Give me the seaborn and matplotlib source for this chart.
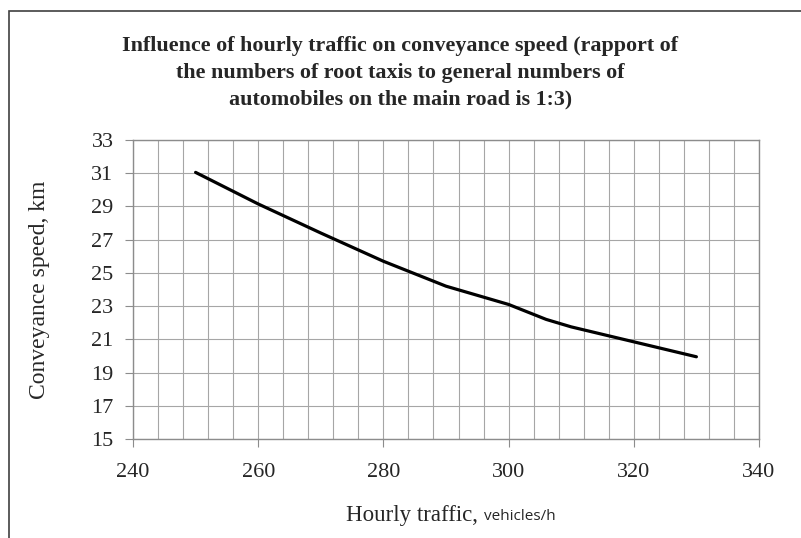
import matplotlib
matplotlib.use("Agg")
import matplotlib.pyplot as plt
import seaborn as sns
import pandas as pd
from matplotlib.patches import Rectangle

traffic = [250, 260, 270, 280, 290, 300, 306, 310, 320, 330]
speed = [31.05, 29.15, 27.4, 25.7, 24.2, 23.1, 22.2, 21.75, 20.85, 19.95]
x_ticks = [240, 260, 280, 300, 320, 340]
y_ticks = [15, 17, 19, 21, 23, 25, 27, 29, 31, 33]

title = ("Influence of hourly traffic on conveyance speed (rapport of\n"
         "the numbers of root taxis to general numbers of\n"
         "automobiles on the main road is 1:3)")

sns.set_style("white")
plt.rcParams['font.family'] = ['Liberation Serif', 'DejaVu Serif']

df = pd.DataFrame({"traffic": traffic, "speed": speed})

fig = plt.figure(figsize=(8.01, 5.38), dpi=100)
ax = fig.add_axes([133/801, 1 - 439/538, (759-133)/801, (439-140)/538])

sns.lineplot(data=df, x="traffic", y="speed", ax=ax, color="black", lw=2.3)

ax.set_xlim(240, 340)
ax.set_ylim(15, 33)
ax.set_xticks(x_ticks)
ax.set_yticks(y_ticks)
ax.set_xticks(list(range(240, 341, 4)), minor=True)
ax.grid(True, which="both", axis="x", color="#a6a6a6", lw=0.8)
ax.grid(True, which="major", axis="y", color="#a6a6a6", lw=0.8)
ax.tick_params(axis="both", which="major", direction="out", length=6, width=0.8,
               color="#8c8c8c", labelsize=16, bottom=True, left=True)
ax.tick_params(axis="x", which="major", pad=11)
ax.tick_params(axis="y", which="major", pad=8)
ax.tick_params(axis="x", which="minor", length=0)
for s in ax.spines.values():
    s.set_color("#8c8c8c")
    s.set_linewidth(1.0)

ax.set_xlabel("")
ax.set_ylabel("Conveyance speed, km", fontsize=17)
ax.yaxis.set_label_coords((50 - 133) / 626, 0.5)

fig.text(478/801, 1 - 516/538, "Hourly traffic,", fontsize=16.5, ha="right", va="center")
fig.text(484/801, 1 - 516/538, "vehicles/h", fontsize=11, ha="left", va="center",
         family=["Open Sans", "DejaVu Sans"])

fig.text(0.5, 1 - 73/538, title, fontsize=15.8, fontweight="bold", ha="center",
         va="center", linespacing=1.45)

fig.patches.append(Rectangle((9/801, -0.1), 1.2, 1 - 11/538 + 0.1, transform=fig.transFigure,
                             fill=False, edgecolor="#404040", lw=1.2))

fig.savefig("out.png", dpi=100)
